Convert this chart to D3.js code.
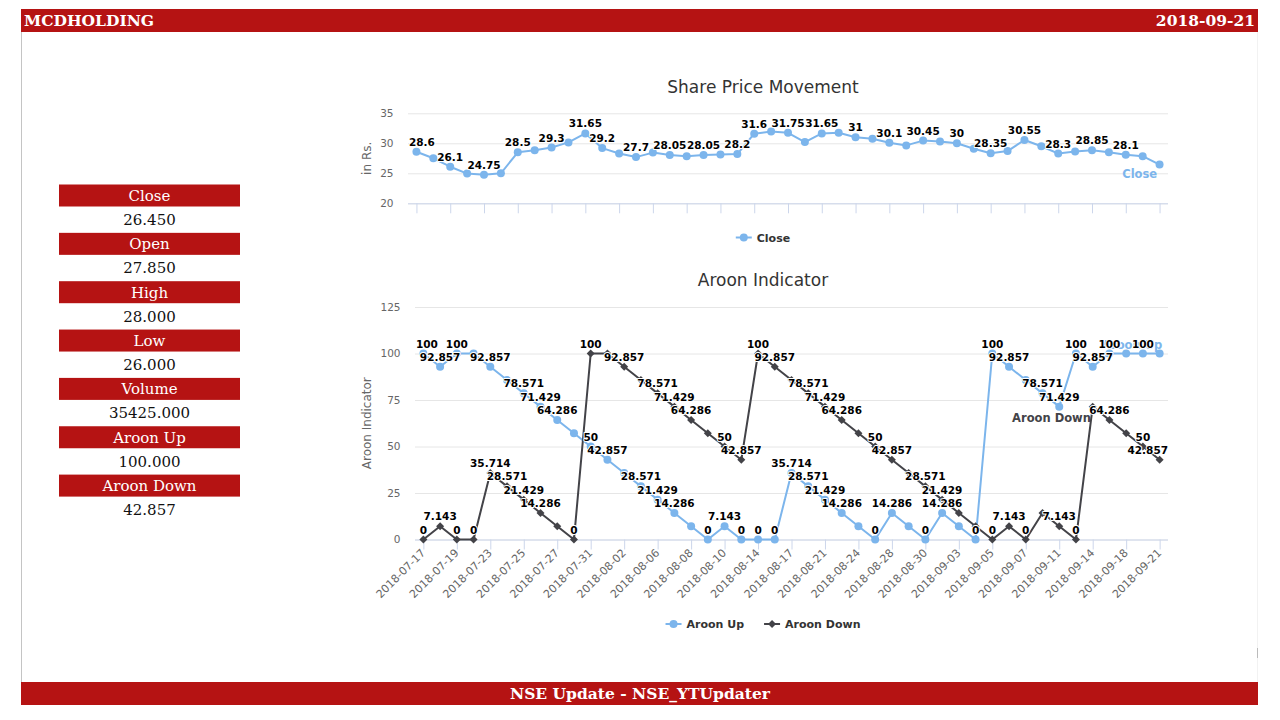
<!DOCTYPE html>
<html><head><meta charset="utf-8">
<script src="https://cdn.jsdelivr.net/npm/d3@7"></script>
<style>
html,body{margin:0;padding:0;background:#fff;overflow:hidden;}
svg{display:block;}
</style></head>
<body>
<svg id="c" width="1280" height="720"></svg>
<script>
// ---------------- DATA ----------------
const symbolName = "MCDHOLDING";
const reportDate = "2018-09-21";
const footerText = "NSE Update - NSE_YTUpdater";
const panelLabels = ["Close", "Open", "High", "Low", "Volume", "Aroon Up", "Aroon Down"];
const panelValues = ["26.450", "27.850", "28.000", "26.000", "35425.000", "100.000", "42.857"];

const categories = [
  "2018-07-17","2018-07-18","2018-07-19","2018-07-20","2018-07-23","2018-07-24","2018-07-25","2018-07-26",
  "2018-07-27","2018-07-30","2018-07-31","2018-08-01","2018-08-02","2018-08-03","2018-08-06","2018-08-07",
  "2018-08-08","2018-08-09","2018-08-10","2018-08-13","2018-08-14","2018-08-16","2018-08-17","2018-08-20",
  "2018-08-21","2018-08-23","2018-08-24","2018-08-27","2018-08-28","2018-08-29","2018-08-30","2018-08-31",
  "2018-09-03","2018-09-04","2018-09-05","2018-09-06","2018-09-07","2018-09-10","2018-09-11","2018-09-12",
  "2018-09-14","2018-09-17","2018-09-18","2018-09-19","2018-09-21"
];
const closeValues = [
  28.6, 27.5, 26.1, 24.95, 24.75, 25.0, 28.5, 28.85, 29.3, 30.15,
  31.65, 29.2, 28.3, 27.7, 28.45, 28.05, 27.85, 28.05, 28.15, 28.2,
  31.6, 31.95, 31.75, 30.2, 31.65, 31.75, 31, 30.75, 30.1, 29.65,
  30.45, 30.3, 30, 29.1, 28.35, 28.7, 30.55, 29.5, 28.3, 28.65,
  28.85, 28.5, 28.1, 27.85, 26.45
];
const aroonUp = [
  100, 92.857, 100, 100, 92.857, 85.714, 78.571, 71.429, 64.286, 57.143,
  50, 42.857, 35.714, 28.571, 21.429, 14.286, 7.143, 0, 7.143, 0,
  0, 0, 35.714, 28.571, 21.429, 14.286, 7.143, 0, 14.286, 7.143,
  0, 14.286, 7.143, 0, 100, 92.857, 85.714, 78.571, 71.429, 100,
  92.857, 100, 100, 100, 100
];
const aroonDown = [
  0, 7.143, 0, 0, 35.714, 28.571, 21.429, 14.286, 7.143, 0,
  100, 100, 92.857, 85.714, 78.571, 71.429, 64.286, 57.143, 50, 42.857,
  100, 92.857, 85.714, 78.571, 71.429, 64.286, 57.143, 50, 42.857, 35.714,
  28.571, 21.429, 14.286, 7.143, 0, 7.143, 0, 14.286, 7.143, 0,
  71.429, 64.286, 57.143, 50, 42.857
];
const closeTicks = [20, 25, 30, 35];
const aroonTicks = [0, 25, 50, 75, 100, 125];
// data labels left visible after overlap hiding (as in the picture)
const closeLabelIdx = [0,2,4,6,8,10,11,13,15,17,19,20,22,24,26,28,30,32,34,36,38,40,42];
const upLabelIdx = [0,1,2,4,6,7,8,10,11,13,14,15,17,18,19,20,21,22,23,24,25,27,28,30,31,33,34,35,37,38,39,40,41,43];
const downLabelIdx = [0,1,2,3,4,5,6,7,9,10,12,14,15,16,18,19,20,21,23,24,25,27,28,30,31,34,35,36,38,39,41,43,44];

// ---------------- DRAW ----------------
const RED = "#b51313";
const svg = d3.select("#c");
const FONT = "'DejaVu Sans', sans-serif";
const SERIF = "'DejaVu Serif', serif";

// page frame
svg.append("line").attr("x1", 21.5).attr("x2", 21.5).attr("y1", 32).attr("y2", 682).attr("stroke", "#c4c4c4");
svg.append("line").attr("x1", 1257.5).attr("x2", 1257.5).attr("y1", 32).attr("y2", 682).attr("stroke", "#f2f2f2");
svg.append("line").attr("x1", 1257.5).attr("x2", 1257.5).attr("y1", 648).attr("y2", 658).attr("stroke", "#bbb");
svg.append("rect").attr("x", 21).attr("y", 9).attr("width", 1237).attr("height", 23).attr("fill", RED);
svg.append("text").attr("x", 24).attr("y", 26).attr("fill", "#fff").attr("font-family", SERIF)
  .attr("font-weight", "bold").attr("font-size", 15.5).text(symbolName);
svg.append("text").attr("x", 1255).attr("y", 26).attr("text-anchor", "end").attr("fill", "#fff").attr("font-family", SERIF)
  .attr("font-weight", "bold").attr("font-size", 15.5).text(reportDate);
svg.append("rect").attr("x", 21).attr("y", 682).attr("width", 1237).attr("height", 23).attr("fill", RED);
svg.append("text").attr("x", 640).attr("y", 699).attr("text-anchor", "middle").attr("fill", "#fff").attr("font-family", SERIF)
  .attr("font-weight", "bold").attr("font-size", 15.5).text(footerText);

// left info panel
const panel = svg.append("g");
panelLabels.forEach((lab, k) => {
  const y0 = 184.5 + k * 48.35;
  panel.append("rect").attr("x", 59).attr("y", y0).attr("width", 181).attr("height", 22).attr("fill", RED);
  panel.append("text").attr("x", 149.5).attr("y", y0 + 16.5).attr("text-anchor", "middle").attr("fill", "#fff")
    .attr("font-family", SERIF).attr("font-size", 15).text(lab);
  panel.append("text").attr("x", 149.5).attr("y", y0 + 40.5).attr("text-anchor", "middle").attr("fill", "#111")
    .attr("font-family", SERIF).attr("font-size", 15).text(panelValues[k]);
});

function marker(g, type, x, y, color) {
  if (type === "circle") {
    g.append("circle").attr("cx", x).attr("cy", y).attr("r", 4).attr("fill", color);
  } else {
    g.append("path").attr("d", `M${x},${y-4}L${x+4},${y}L${x},${y+4}L${x-4},${y}Z`).attr("fill", color);
  }
}

function drawChart(cfg) {
  const g = svg.append("g");
  const x = d3.scalePoint().domain(categories).range([cfg.left, cfg.right]).padding(0.5);
  const y = d3.scaleLinear().domain(cfg.yDomain).range([cfg.bottom, cfg.top]);

  // title
  g.append("text").attr("x", cfg.cx).attr("y", cfg.titleY).attr("text-anchor", "middle")
    .attr("font-family", FONT).attr("font-size", 17).attr("fill", "#333").text(cfg.title);

  // y axis + grid
  const ya = g.append("g").attr("transform", `translate(${cfg.left},0)`)
    .call(d3.axisLeft(y).tickValues(cfg.ticks).tickSize(-(cfg.right - cfg.left)).tickPadding(14.5));
  ya.select(".domain").remove();
  ya.selectAll(".tick line").attr("stroke", "#e6e6e6");
  ya.selectAll(".tick text").attr("font-family", FONT).attr("font-size", 10.5).attr("fill", "#666");
  g.append("text").attr("transform", `translate(${cfg.titleX},${(cfg.top + cfg.bottom) / 2}) rotate(-90)`)
    .attr("text-anchor", "middle").attr("font-family", FONT).attr("font-size", 12).attr("fill", "#666").text(cfg.yTitle);

  // x axis
  const evenCats = categories.filter((d, i) => i % 2 === 0);
  const xa = g.append("g").attr("transform", `translate(0,${cfg.bottom})`)
    .call(d3.axisBottom(x).tickValues(evenCats).tickSize(10).tickSizeOuter(0).tickFormat(cfg.xLabels ? d => d : () => ""));
  xa.select(".domain").attr("stroke", "#ccd6eb").attr("d", `M${cfg.left},0.5H${cfg.right}`);
  xa.selectAll(".tick line").attr("stroke", "#ccd6eb");
  xa.selectAll(".tick text").attr("font-family", FONT).attr("font-size", 11).attr("fill", "#666")
    .attr("text-anchor", "end").attr("dy", null).attr("y", 0)
    .attr("transform", "translate(2,14) rotate(-45)");

  // series labels (under data labels)
  cfg.seriesLabels.forEach(sl => {
    g.append("text").attr("x", x(categories[sl.i]) + sl.dx).attr("y", y(sl.v)).attr("text-anchor", "middle")
      .attr("font-family", FONT).attr("font-size", 11.5).attr("font-weight", "bold").attr("fill", sl.color).text(sl.name);
  });

  // series
  cfg.series.forEach(s => {
    const line = d3.line().x((d, i) => x(categories[i])).y(d => y(d));
    g.append("path").attr("d", line(s.values)).attr("fill", "none").attr("stroke", s.color).attr("stroke-width", 2)
      .attr("stroke-linejoin", "round").attr("stroke-linecap", "round");
    s.values.forEach((v, i) => marker(g, s.symbol, x(categories[i]), y(v), s.color));
  });
  // data labels, kept inside the plot area
  cfg.series.forEach(s => {
    s.labelIdx.forEach(i => {
      const t = g.append("text").attr("y", y(s.values[i]) - 6).attr("text-anchor", "middle")
        .attr("font-family", FONT).attr("font-size", 10.5).attr("font-weight", "bold").attr("fill", "#000")
        .attr("stroke", "#fff").attr("stroke-width", 2).attr("stroke-linejoin", "round").attr("paint-order", "stroke")
        .text(String(s.values[i]));
      const w = t.node().getComputedTextLength();
      let cxl = x(categories[i]);
      if (cxl - w / 2 < cfg.left + 1) cxl = cfg.left + 1 + w / 2;
      if (cxl + w / 2 > cfg.right) cxl = cfg.right - w / 2;
      t.attr("x", cxl);
    });
  });

  // legend
  const lg = g.append("g");
  const items = cfg.series.map(s => {
    const t = lg.append("text").attr("font-family", FONT).attr("font-size", 11).attr("font-weight", "bold")
      .attr("fill", "#333").text(s.name);
    return { s, t, w: t.node().getComputedTextLength() };
  });
  const total = items.reduce((a, it) => a + 16 + 5 + it.w, 0) + 20 * (items.length - 1);
  let lx = cfg.cx - total / 2;
  items.forEach(it => {
    lg.append("line").attr("x1", lx).attr("x2", lx + 16).attr("y1", cfg.legendY).attr("y2", cfg.legendY)
      .attr("stroke", it.s.color).attr("stroke-width", 2);
    marker(lg, it.s.symbol, lx + 8, cfg.legendY, it.s.color);
    it.t.attr("x", lx + 21).attr("y", cfg.legendY + 4);
    lx += 21 + it.w + 20;
  });
}

drawChart({
  title: "Share Price Movement", titleY: 93, cx: 763,
  left: 408, right: 1168, top: 113.3, bottom: 203.3, titleX: 371,
  yDomain: [20, 35], ticks: closeTicks, yTitle: "in Rs.", xLabels: false, legendY: 237.5,
  series: [{ name: "Close", values: closeValues, color: "#7cb5ec", symbol: "circle", labelIdx: closeLabelIdx }],
  seriesLabels: [{ name: "Close", i: 43, dx: -3, v: closeValues[44] - 2.3, color: "#7cb5ec" }]
});

drawChart({
  title: "Aroon Indicator", titleY: 286, cx: 763,
  left: 415, right: 1168, top: 307, bottom: 539.5, titleX: 371,
  yDomain: [0, 125], ticks: aroonTicks, yTitle: "Aroon Indicator", xLabels: true, legendY: 624,
  series: [
    { name: "Aroon Up", values: aroonUp, color: "#7cb5ec", symbol: "circle", labelIdx: upLabelIdx },
    { name: "Aroon Down", values: aroonDown, color: "#434348", symbol: "diamond", labelIdx: downLabelIdx }
  ],
  seriesLabels: [
    { name: "Aroon Up", i: 42, dx: 6, v: aroonUp[42] + 2.5, color: "#7cb5ec" },
    { name: "Aroon Down", i: 37, dx: 9, v: aroonDown[41] - 1.0, color: "#434348" }
  ]
});
</script>
</body></html>
